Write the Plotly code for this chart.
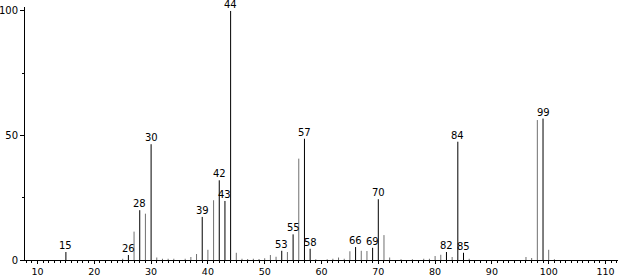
import plotly.graph_objects as go

mz = [15, 25, 26, 27, 28, 29, 30, 31, 32, 33, 34, 36, 37, 38, 39, 40, 41, 42, 43, 44,
      45, 46, 47, 48, 49, 50, 51, 52, 53, 54, 55, 56, 57, 58, 59, 61, 62, 63, 64, 65,
      66, 67, 68, 69, 70, 71, 72, 74, 76, 78, 79, 80, 81, 82, 83, 84, 85, 86, 96, 97,
      98, 99, 100, 101]
intensity = [3.2, 0.5, 2.0, 11.4, 20.0, 18.6, 46.5, 1.0, 0.5, 0.5, 0.5, 0.5, 1.2, 2.4, 17.3, 4.1, 24.0, 32.0, 23.7, 100.0,
             2.9, 0.5, 0.4, 0.5, 0.4, 0.7, 2.0, 1.3, 3.7, 3.2, 10.3, 40.7, 48.7, 4.5, 0.3, 0.3, 0.5, 1.0, 0.5, 3.5,
             5.2, 3.7, 3.6, 4.9, 24.4, 10.0, 1.0, 0.3, 0.3, 0.5, 0.5, 1.6, 2.1, 3.2, 1.2, 47.5, 2.9, 0.5, 1.2, 0.8,
             56.2, 56.8, 4.1, 0.3]
labeled = [15, 26, 28, 30, 39, 42, 43, 44, 53, 55, 57, 58, 66, 69, 70, 82, 84, 85, 99]
x_ticks = [10, 20, 30, 40, 50, 60, 70, 80, 90, 100, 110]
y_ticks = [0, 50, 100]

FONT = "DejaVu Sans"

fig = go.Figure()
for group, color in ((False, "#707070"), (True, "#000000")):
    xs, ys = [], []
    for m, v in zip(mz, intensity):
        if (m in labeled) == group:
            xs += [m, m, None]
            ys += [0, v, None]
    fig.add_trace(go.Scatter(x=xs, y=ys, mode="lines",
                             line=dict(color=color, width=1),
                             hoverinfo="skip", showlegend=False, cliponaxis=False))

for m, v in zip(mz, intensity):
    if m in labeled:
        fig.add_annotation(x=m, y=v, text=str(m), showarrow=False,
                           yanchor="bottom", yshift=-1,
                           font=dict(family=FONT, size=10, color="black"))

fig.update_layout(
    width=618, height=277,
    margin=dict(l=25, r=0, t=7, b=17, autoexpand=False),
    paper_bgcolor="white", plot_bgcolor="white",
    font=dict(family=FONT, size=10, color="black"),
    xaxis=dict(range=[7.8, 112.2], tickvals=x_ticks, ticks="outside", ticklen=3,
               tickcolor="black", showline=True, linecolor="black", linewidth=1,
               showgrid=False, zeroline=False, tickfont=dict(size=9.5), automargin=False,
               minor=dict(dtick=1, tick0=0, ticks="outside", ticklen=2, tickcolor="black")),
    yaxis=dict(range=[0, 101.6], tickvals=y_ticks, ticks="outside", ticklen=4,
               tickcolor="black", showline=True, linecolor="black", linewidth=1,
               showgrid=False, zeroline=False, tickfont=dict(size=10), automargin=False,
               minor=dict(dtick=25, tick0=0, ticks="outside", ticklen=2, tickcolor="black")),
)

fig.write_html("out.html")
